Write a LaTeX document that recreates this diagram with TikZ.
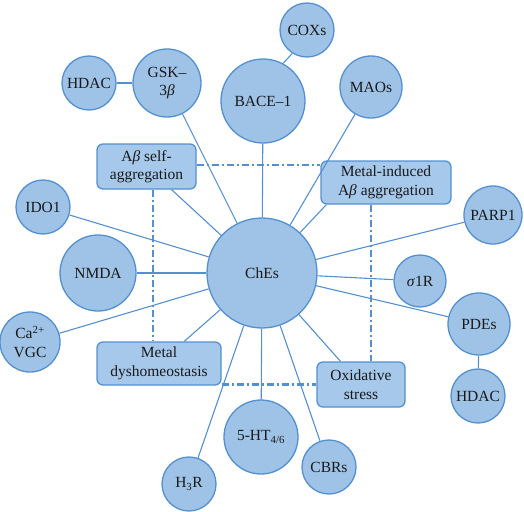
\documentclass[tikz,border=0pt]{standalone}
\usepackage{fontspec}
\setmainfont{Liberation Serif}
\definecolor{edgeblue}{RGB}{84,144,208}
\definecolor{fillblue}{RGB}{158,195,230}
\definecolor{boxblue}{RGB}{166,200,234}
\tikzset{
	target/.style={circle, draw=edgeblue, fill=fillblue, line width=1.3pt, inner sep=0pt, align=center, text=black!90, font=\fontsize{15.5}{18.5}\selectfont},
	mech/.style={rectangle, rounded corners=6pt, draw=edgeblue, fill=boxblue, line width=1.3pt, inner sep=0pt, align=center, text=black!90, font=\fontsize{15.5}{18.5}\selectfont},
	link/.style={edgeblue, line width=1.1pt},
	cross/.style={edgeblue, line width=2.1pt, dash pattern=on 7pt off 3pt on 2pt off 3pt},
}
\begin{document}
\begin{tikzpicture}[x=1pt, y=-1pt]
	\useasboundingbox (0,0) rectangle (524,511);
	
	\node[target, minimum size=110pt] (ches) at (262,273) {ChEs};
	\node[target, minimum size=84pt] (bace) at (263,101) {BACE–1};
	\node[target, minimum size=54pt] (coxs) at (307,30) {COXs};
	\node[target, minimum size=62pt] (maos) at (371,87) {MAOs};
	\node[target, minimum size=68pt] (gsk) at (167,83) {GSK–\\3\textit{β}};
	\node[target, minimum size=54pt] (hdaca) at (89,83) {HDAC};
	\node[target, minimum size=54pt] (ido) at (43,207) {IDO1};
	\node[target, minimum size=76pt] (nmda) at (98,273) {NMDA};
	\node[target, minimum size=60pt] (vgc) at (30,342) {Ca\textsuperscript{2+}\\VGC};
	\node[target, minimum size=54pt] (hthree) at (189,484) {H\textsubscript{3}R};
	\node[target, minimum size=74pt] (ht) at (261,437) {5-HT\textsubscript{4/6}};
	\node[target, minimum size=54pt] (cbr) at (329,467) {CBRs};
	\node[target, minimum size=52pt] (sigma) at (420,281) {\textit{σ}1R};
	\node[target, minimum size=62pt] (pdes) at (479,324) {PDEs};
	\node[target, minimum size=54pt] (hdacb) at (478,396) {HDAC};
	\node[target, minimum size=58pt] (parp) at (493,215) {PARP1};
	
	\node[mech, minimum width=99pt, minimum height=45pt] (aself) at (146.5,166.5) {A\textit{β} self-\\aggregation};
	\node[mech, minimum width=130pt, minimum height=43pt] (mia) at (386,182.5) {Metal-induced\\A\textit{β} aggregation};
	\node[mech, minimum width=124pt, minimum height=43pt] (mdys) at (159,363.5) {Metal\\dyshomeostasis};
	\node[mech, minimum width=88pt, minimum height=45pt] (oxs) at (361,384.5) {Oxidative\\stress};
	
	\foreach \t in {bace, maos, gsk, ido, nmda, vgc, hthree, ht, cbr, sigma, pdes, parp, aself, mdys, oxs}
		\draw[link] (ches) -- (\t);
	\draw[link] (ches) -- ([xshift=6pt]mia.south west);
	\draw[link] (coxs.238) -- (bace.62);
	\draw[link] (hdaca) -- (gsk);
	\draw[link] (pdes) -- (hdacb);
	
	\draw[cross] (aself.east |- 0,165) -- (mia.west |- 0,165);
	\draw[cross] ([xshift=6.5pt]aself.south) -- ([xshift=6.5pt]aself.south |- mdys.north);
	\draw[cross] ([xshift=-15pt]mia.south) -- ([xshift=-15pt]mia.south |- oxs.north);
	\draw[cross] (mdys.east |- oxs.west) -- (oxs.west);
\end{tikzpicture}
\end{document}
